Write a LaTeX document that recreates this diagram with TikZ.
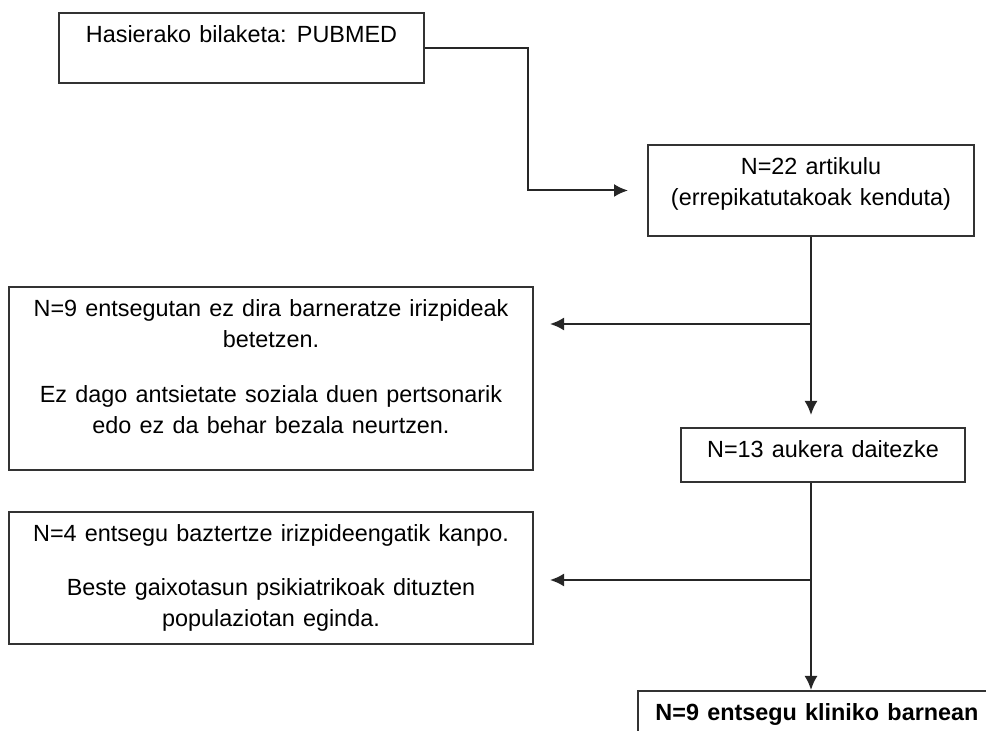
\documentclass[tikz,border=0pt]{standalone}
\usepackage{fontspec}
\setmainfont{Liberation Sans}
\usetikzlibrary{arrows.meta,calc}
\newcommand{\boxlines}[3]{\parbox[c][#1][t]{#2}{\centering\spaceskip=0.35em\rule{0pt}{15pt}#3}}
\tikzset{
	flowbox/.style={draw=black!80, line width=1pt, inner sep=0pt, anchor=north west, font=\fontsize{11.7}{15.5}\selectfont},
	flowline/.style={draw=black!85, line width=1pt},
	flowarrow/.style={flowline, -{Latex[length=7pt,width=6.5pt]}},
}

\begin{document}
\begin{tikzpicture}[x=0.5pt, y=-0.5pt]
	%%%%% START %%%%%
	\useasboundingbox (0, 0) rectangle (986, 731);
	
	\node[flowbox] (search) at (58, 12) {\boxlines{35pt}{182.5pt}{Hasierako bilaketa: PUBMED}};
	\node[flowbox] (articles) at (647, 144) {\boxlines{45.5pt}{163pt}{N=22 artikulu\\(errepikatutakoak kenduta)}};
	
	\node[flowbox] (excl1) at (8, 286) {\boxlines{91.5pt}{262pt}{N=9 entsegutan ez dira barneratze irizpideak\\betetzen.\\[12pt]Ez dago antsietate soziala duen pertsonarik\\edo ez da behar bezala neurtzen.}};
	\node[flowbox] (eligible) at (680, 427) {\boxlines{27pt}{142pt}{N=13 aukera daitezke}};
	
	\node[flowbox] (excl2) at (8, 511) {\boxlines{66pt}{262pt}{N=4 entsegu baztertze irizpideengatik kanpo.\\[11.5pt]Beste gaixotasun psikiatrikoak dituzten\\populaziotan eginda.}};
	\node[flowbox, font=\fontsize{11.7}{15.5}\selectfont\bfseries] (included) at (637, 690) {\boxlines{30pt}{179pt}{N=9 entsegu kliniko barnean}};
	
	\coordinate (split1) at (articles.south |- 0, 324);
	\coordinate (split2) at (articles.south |- 0, 580);
	
	\draw[flowarrow, shorten >=9.5pt] (search.east) -- ++(103, 0) |- (articles.west);
	\draw[flowline] (articles.south) -- (split1);
	\draw[flowarrow, shorten >=8pt] (split1) -- (split1 -| excl1.east);
	\draw[flowarrow, shorten >=6pt] (split1) -- (articles.south |- eligible.north);
	\draw[flowline] (articles.south |- eligible.south) -- (split2);
	\draw[flowarrow, shorten >=8pt] (split2) -- (split2 -| excl2.east);
	\draw[flowarrow] (split2) -- (split2 |- included.north);
	
	%%%%% END %%%%%
\end{tikzpicture}
\end{document}
